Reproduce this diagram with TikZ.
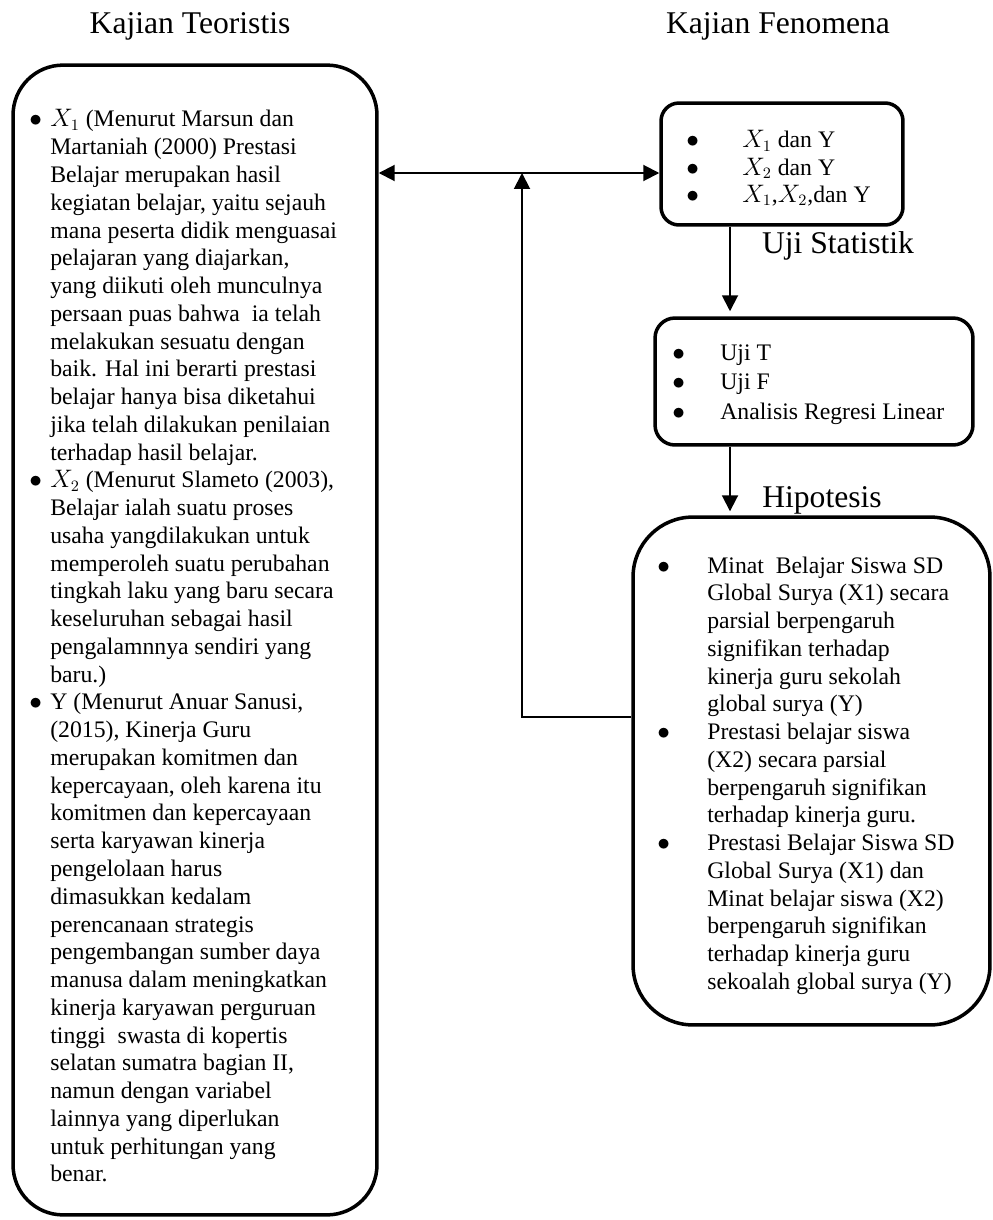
\documentclass[tikz,border=0pt]{standalone}
\usepackage{fontspec}
\setmainfont{Liberation Serif}
\usetikzlibrary{arrows.meta}

\begin{document}
\begin{tikzpicture}[x=0.02cm, y=-0.02cm,
  kotak/.style={draw, line width=2pt, inner sep=0pt},
  panah/.style={line width=1.1pt, -{Triangle[length=0.32cm, width=0.32cm]}},
  duapanah/.style={line width=1.1pt, {Triangle[length=0.32cm, width=0.32cm]}-{Triangle[length=0.32cm, width=0.32cm]}},
  judul/.style={anchor=base, inner sep=0pt, font=\fontsize{18}{21}\selectfont},
  isi/.style={anchor=base west, inner sep=0pt, font=\fontsize{13.5}{15.8}\selectfont}]
  \useasboundingbox (0,0) rectangle (992,1220);
  % judul kolom
  \node[judul] (judulteori) at (190,34) {Kajian Teoristis};
  \node[judul] (judulfenomena) at (778,34) {Kajian Fenomena};
  % kotak
  \node[kotak, rounded corners=1cm, minimum width=7.28cm, minimum height=23cm] (teori) at (195,640) {};
  \node[kotak, rounded corners=0.36cm, minimum width=4.84cm, minimum height=2.44cm] (fenomena) at (782,164) {};
  \node[kotak, rounded corners=0.4cm, minimum width=6.36cm, minimum height=2.54cm] (statistik) at (814,381.5) {};
  \node[kotak, rounded corners=1.2cm, minimum width=7.14cm, minimum height=10.16cm] (hipotesis) at (811.5,771) {};
  % label antar kotak
  \node[judul] (ujistat) at (838,253) {Uji Statistik};
  \node[judul] (hipo) at (822,507) {Hipotesis};
  % isi kotak
  \node[isi] (isiteori) at (29,127) {\begin{tabular}[t]{@{}p{0.42cm}@{}l@{}}
    $\bullet$ & $X_1$ (Menurut Marsun dan\\
    & Martaniah (2000) Prestasi\\
    & Belajar merupakan hasil\\
    & kegiatan belajar, yaitu sejauh\\
    & mana peserta didik menguasai\\
    & pelajaran yang diajarkan,\\
    & yang diikuti oleh munculnya\\
    & persaan puas bahwa\ \ ia telah\\
    & melakukan sesuatu dengan\\
    & baik. Hal ini berarti prestasi\\
    & belajar hanya bisa diketahui\\
    & jika telah dilakukan penilaian\\
    & terhadap hasil belajar.\\
    $\bullet$ & $X_2$ (Menurut Slameto (2003),\\
    & Belajar ialah suatu proses\\
    & usaha yangdilakukan untuk\\
    & memperoleh suatu perubahan\\
    & tingkah laku yang baru secara\\
    & keseluruhan sebagai hasil\\
    & pengalamnnya sendiri yang\\
    & baru.)\\
    $\bullet$ & Y (Menurut Anuar Sanusi,\\
    & (2015), Kinerja Guru\\
    & merupakan komitmen dan\\
    & kepercayaan, oleh karena itu\\
    & komitmen dan kepercayaan\\
    & serta karyawan kinerja\\
    & pengelolaan harus\\
    & dimasukkan kedalam\\
    & perencanaan strategis\\
    & pengembangan sumber daya\\
    & manusa dalam meningkatkan\\
    & kinerja karyawan perguruan\\
    & tinggi\ \ swasta di kopertis\\
    & selatan sumatra bagian II,\\
    & namun dengan variabel\\
    & lainnya yang diperlukan\\
    & untuk perhitungan yang\\
    & benar.
  \end{tabular}};
  \node[isi, font=\fontsize{13.5}{15.4}\selectfont] (isifenomena) at (686,148) {\begin{tabular}[t]{@{}p{1.12cm}@{}l@{}}
    $\bullet$ & $X_1$ dan Y\\
    $\bullet$ & $X_2$ dan Y\\
    $\bullet$ & $X_1$,$X_2$,dan Y
  \end{tabular}};
  \node[isi, font=\fontsize{13.5}{17}\selectfont] (isistatistik) at (672,360) {\begin{tabular}[t]{@{}p{0.96cm}@{}l@{}}
    $\bullet$ & Uji T\\
    $\bullet$ & Uji F\\
    $\bullet$ & Analisis Regresi Linear
  \end{tabular}};
  \node[isi] (isihipotesis) at (657,573) {\begin{tabular}[t]{@{}p{1cm}@{}l@{}}
    $\bullet$ & Minat\ \ Belajar Siswa SD\\
    & Global Surya (X1) secara\\
    & parsial berpengaruh\\
    & signifikan terhadap\\
    & kinerja guru sekolah\\
    & global surya (Y)\\
    $\bullet$ & Prestasi belajar siswa\\
    & (X2) secara parsial\\
    & berpengaruh signifikan\\
    & terhadap kinerja guru.\\
    $\bullet$ & Prestasi Belajar Siswa SD\\
    & Global Surya (X1) dan\\
    & Minat belajar siswa (X2)\\
    & berpengaruh signifikan\\
    & terhadap kinerja guru\\
    & sekoalah global surya (Y)
  \end{tabular}};
  % panah
  \coordinate (simpang) at (522,173);
  \coordinate (sudut) at (522,717);
  \coordinate (turun) at (730,0);
  \draw[duapanah] (teori.east |- simpang) -- (fenomena.west |- simpang);
  \draw[panah] (hipotesis.west |- sudut) -- (sudut) -- (simpang);
  \draw[panah, shorten >=0.1cm] (fenomena.south -| turun) -- (statistik.north -| turun);
  \draw[panah, shorten >=0.08cm] (statistik.south -| turun) -- (hipotesis.north -| turun);
\end{tikzpicture}
\end{document}
